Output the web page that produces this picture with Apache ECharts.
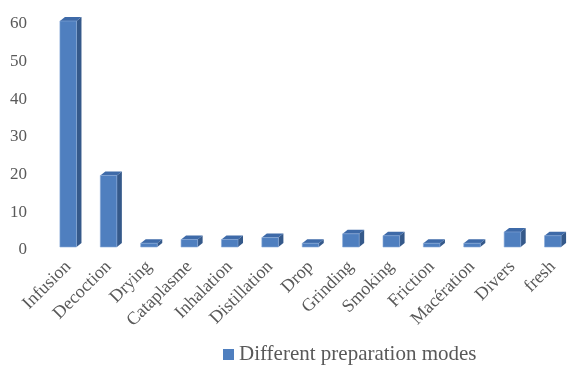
<!DOCTYPE html>
<html><head><meta charset="utf-8">
<script src="https://cdn.jsdelivr.net/npm/echarts@6/dist/echarts.min.js"></script>
<style>html,body{margin:0;padding:0;background:#fff}#c{width:573px;height:367px}</style>
</head><body><div id="c"></div>
<script>
const categories = ['Infusion','Decoction','Drying','Cataplasme','Inhalation','Distillation','Drop','Grinding','Smoking','Friction','Macération','Divers','fresh'];
const values = [60, 19, 1, 2, 2, 2.5, 1, 3.5, 3, 1, 1, 4, 3];
const yTicks = [0, 10, 20, 30, 40, 50, 60];
const seriesName = 'Different preparation modes';

const FRONT = '#4F7FBF', SIDE = '#35598A', TOP = '#3E6AA8';
const chart = echarts.init(document.getElementById('c'), null, {renderer: 'canvas'});
chart.setOption({
  animation: false,
  textStyle: {fontFamily: 'Liberation Serif'},
  grid: {left: 48, right: -8, top: 24, bottom: 117, containLabel: false},
  xAxis: {
    type: 'category', data: categories,
    axisLine: {show: false}, axisTick: {show: false},
    axisLabel: {rotate: 45, margin: 14, color: '#595959', fontSize: 18, fontFamily: 'Liberation Serif', interval: 0}
  },
  yAxis: {
    type: 'value', min: yTicks[0], max: yTicks[yTicks.length-1], interval: 10,
    splitLine: {show: false}, axisLine: {show: false}, axisTick: {show: false},
    axisLabel: {margin: 21, color: '#595959', fontSize: 17, fontFamily: 'Liberation Serif'}
  },
  legend: {
    top: 339, left: 218, itemWidth: 11, itemHeight: 11, itemGap: 4, padding: 5,
    textStyle: {color: '#595959', fontSize: 21, fontFamily: 'Liberation Serif'},
    data: [{name: seriesName, icon: 'rect', itemStyle: {color: FRONT}}]
  },
  series: [{
    type: 'custom', name: seriesName,
    itemStyle: {color: FRONT},
    data: values.map((v, i) => [i, v]),
    renderItem: function (params, api) {
      const top = api.coord([api.value(0), api.value(1)]);
      const base = api.coord([api.value(0), 0]);
      const band = api.size([1, 0])[0];
      const w = band * 0.41;
      const dx = 5, dy = 4, lift = 3;
      const x0 = top[0] - w / 2, x1 = top[0] + w / 2;
      const yT = top[1] - lift, yB = base[1] - lift;
      return {
        type: 'group',
        children: [
          {type: 'polygon', shape: {points: [[x1, yB], [x1 + dx, yB - dy], [x1 + dx, yT - dy], [x1, yT]]}, style: {fill: SIDE}},
          {type: 'polygon', shape: {points: [[x0, yT], [x1, yT], [x1 + dx, yT - dy], [x0 + dx, yT - dy]]}, style: {fill: TOP}},
          {type: 'rect', shape: {x: x0, y: yT, width: w, height: yB - yT}, style: {fill: FRONT, stroke: '#86A8D6', lineWidth: 0.6}}
        ]
      };
    }
  }]
});
</script></body></html>
